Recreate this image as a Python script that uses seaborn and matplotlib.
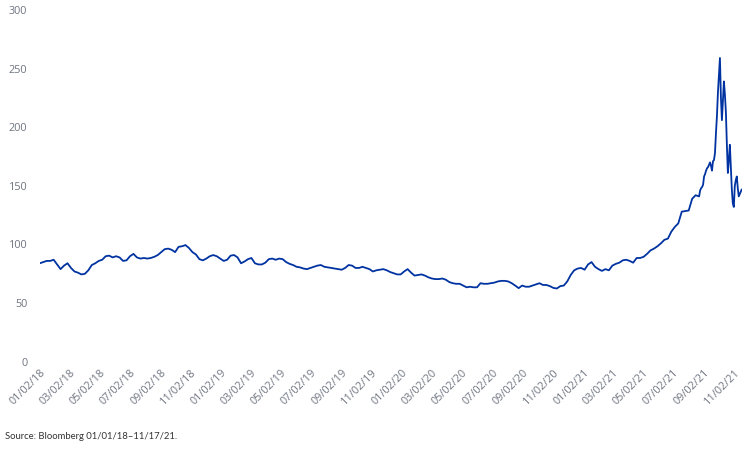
import pandas as pd
import matplotlib
matplotlib.use('Agg')
import matplotlib.pyplot as plt
import matplotlib.dates as mdates
import seaborn as sns

# Weekly readings, 01/01/18 to 08/23/21
weekly_vals = [
    84, 85, 86, 86, 87, 83, 79, 82, 84, 80, 77, 76, 74.5, 75, 78, 82.5, 84, 86, 87, 90,
    90.5, 89, 90, 89, 86, 86.5, 90, 92, 89, 88, 88.5, 88, 88.5, 89.5, 91, 93.5, 96, 96.5, 95.5, 93.5,
    98, 98.5, 99.5, 97, 93.5, 91.5, 87.5, 86.5, 88, 90, 91, 90, 88, 86, 87, 90.5, 91, 89, 84, 85.5,
    87.5, 88.5, 84, 83, 83, 84.5, 87.5, 88, 87, 88, 87.5, 85, 83.5, 82.5, 81, 80.5, 79.5, 79, 80, 81,
    82, 82.5, 81, 80.5, 80, 79.5, 79, 78.5, 80, 82.5, 82, 80, 80, 81, 80, 79, 77, 78, 78.5, 79,
    78, 76.5, 75.5, 74.5, 74.5, 77, 79, 76, 73.5, 74, 74.5, 73.5, 72, 71, 70.5, 70.5, 71, 70, 68, 67,
    66.5, 66.5, 65, 63.5, 64, 63.5, 63.5, 67, 66.5, 66.5, 67, 67.5, 68.5, 69, 69, 68.5, 67, 65, 62.8, 65,
    64, 64, 65, 66, 67, 65.5, 65.5, 64.5, 63, 62.5, 64.5, 65, 68.5, 74, 78, 79.5, 80, 78.5, 83, 85,
    81, 79, 77.5, 79, 78, 82, 83.5, 84.5, 86.5, 87, 86, 84.5, 88.5, 88.5, 89.5, 92, 95, 96.5, 98.5, 101,
    104, 105, 111, 115, 118, 128, 128.5, 129, 139, 142, 141,
]

# Every two days, 08/25/21 to 11/17/21
late_vals = [
    146, 148, 149, 151, 158, 160, 163, 165, 166, 168, 170, 167, 163, 171, 172, 178, 195, 210, 230, 245,
    259, 225, 206, 222, 239, 228, 213, 185, 161, 172, 185, 165, 147, 135, 132, 150, 155, 158, 148, 141,
    143, 145, 147,
]

weekly_dates = pd.date_range('2018-01-01', periods=len(weekly_vals), freq='7D')
late_dates = pd.date_range('2021-08-25', periods=len(late_vals), freq='2D')

df = pd.DataFrame({
    'date': list(weekly_dates) + list(late_dates),
    'value': weekly_vals + late_vals,
})

sns.set_style('white')
plt.rcParams['font.family'] = ['Open Sans', 'DejaVu Sans']

fig = plt.figure(figsize=(7.5, 4.5), dpi=100)
ax = fig.add_axes([0.053, 0.196, 0.936, 0.782])

sns.lineplot(data=df, x='date', y='value', ax=ax, color='#0033a1', linewidth=1.3)

ax.set_ylim(0, 300)
ax.set_yticks(range(0, 301, 50))
ax.set_xlim(pd.Timestamp('2018-01-01'), pd.Timestamp('2021-11-17'))

# ticks on the 2nd of every other month
tick_dates = pd.date_range('2018-01-01', '2021-11-01', freq='2MS') + pd.Timedelta(days=1)
ax.set_xticks(tick_dates)
ax.xaxis.set_major_formatter(mdates.DateFormatter('%m/%d/%y'))

grey = '#6e7480'
ax.tick_params(axis='both', length=0, labelsize=7.8, colors=grey)
ax.tick_params(axis='y', pad=9)
ax.tick_params(axis='x', pad=4)
for lbl in ax.get_xticklabels():
    lbl.set_rotation(45)
    lbl.set_ha('right')
    lbl.set_rotation_mode('anchor')

ax.set_xlabel('')
ax.set_ylabel('')
sns.despine(ax=ax, left=True, bottom=True)
ax.grid(False)

fig.text(0.007, 0.029, 'Source: Bloomberg 01/01/18\u201311/17/21.', fontsize=6.8,
         color='#333333', family=['Lato', 'DejaVu Sans'], va='center')

fig.savefig('out.png', dpi=100)
